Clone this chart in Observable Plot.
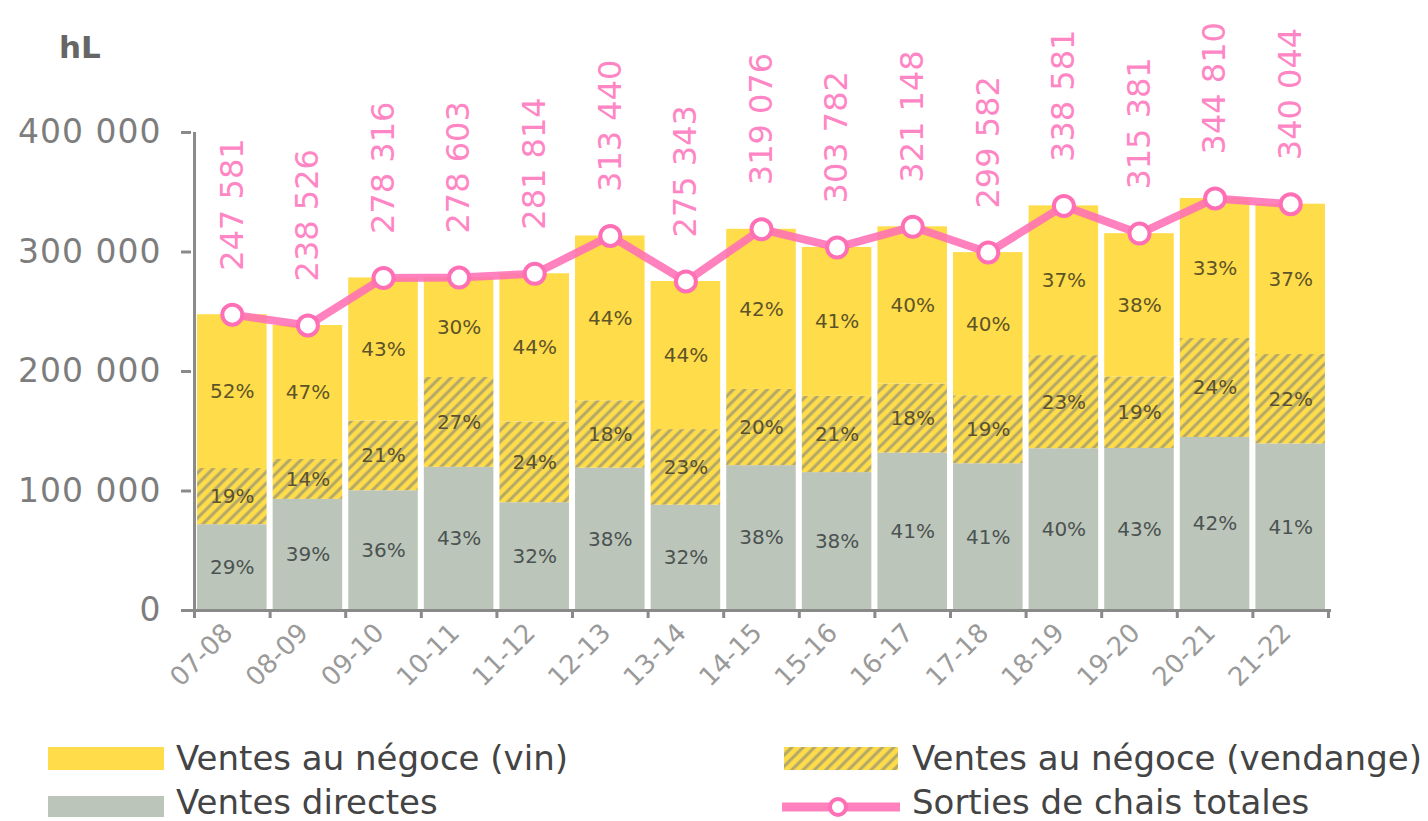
<!DOCTYPE html>
<html><head><meta charset="utf-8">
<script src="https://cdn.jsdelivr.net/npm/d3@7"></script>
<script src="https://cdn.jsdelivr.net/npm/@observablehq/plot@0.6"></script>
<style>
body{margin:0;background:#fff;font-family:"DejaVu Sans",sans-serif;}
#wrap{position:relative;width:1428px;height:821px;overflow:hidden;}
#chart{position:absolute;left:0;top:0;}
.unit{position:absolute;left:59px;top:29px;font-size:31px;font-weight:bold;color:#666;}
.leg{position:absolute;display:flex;align-items:center;font-size:34px;color:#444;white-space:nowrap;line-height:36px;}
.leg svg{margin-right:10px;flex:none;}
g[aria-label="y-axis tick label"] text{letter-spacing:1px;}
</style></head><body>
<div id="wrap"><div id="chart"></div><div class="unit">hL</div></div>
<script>
const campagnes = ["07-08","08-09","09-10","10-11","11-12","12-13","13-14","14-15","15-16","16-17","17-18","18-19","19-20","20-21","21-22"];
const totals = [247581,238526,278316,278603,281814,313440,275343,319076,303782,321148,299582,338581,315381,344810,340044];
const directes = [71800,93000,100200,119800,90200,119100,88100,121200,115400,131700,122800,135400,135600,144800,139400];
const vendange = [47000,33400,58400,75200,67600,56400,63300,63800,63800,57800,56900,77900,59900,82800,74800];
const vin = [128700,112100,119700,83600,124000,137900,123900,134000,124600,131600,119800,125300,119800,117200,125800];
const pctDirectes = ["29%","39%","36%","43%","32%","38%","32%","38%","38%","41%","41%","40%","43%","42%","41%"];
const pctVendange = ["19%","14%","21%","27%","24%","18%","23%","20%","21%","18%","19%","23%","19%","24%","22%"];
const pctVin = ["52%","47%","43%","30%","44%","44%","44%","42%","41%","40%","40%","37%","38%","33%","37%"];
const yTicks = [0,100000,200000,300000,400000];
const seriesNames = ["Ventes directes","Ventes au négoce (vendange)","Ventes au négoce (vin)","Sorties de chais totales"];

const colYellow = "#ffdc4a", colGray = "#bcc5b9", colPink = "#ff6fb5", colLabel = "#ff86c4";
const fmt = d3.formatLocale({thousands:" ", grouping:[3], decimal:","}).format(",");

const rows = [];
campagnes.forEach((c,i)=>{
  rows.push({campagne:c, serie:seriesNames[0], value:directes[i], pct:pctDirectes[i], fill:colGray, tcol:"#4b5352"});
  rows.push({campagne:c, serie:seriesNames[1], value:vendange[i], pct:pctVendange[i], fill:"url(#hatch)", tcol:"#5a5230"});
  rows.push({campagne:c, serie:seriesNames[2], value:vin[i], pct:pctVin[i], fill:colYellow, tcol:"#5e5428"});
});
const totRows = campagnes.map((c,i)=>({campagne:c, total:totals[i], label:fmt(totals[i])}));

const W = 1428, H = 720, mL = 191, mR = 97, mT = 132, mB = 110;
const pad = 0.08;
const step = (W - mL - mR) / (campagnes.length - pad + 2*pad);

const svg = Plot.plot({
  width: W, height: H,
  marginLeft: mL, marginRight: mR, marginTop: mT, marginBottom: mB,
  style: {fontFamily: "DejaVu Sans", background: "white"},
  x: {domain: campagnes, padding: pad, round: false, label: null},
  y: {domain: [0, 400000], label: null},
  color: {type: "identity"},
  marks: [
    Plot.barY(rows, Plot.stackY({x: "campagne", y: "value", fill: "fill", order: null})),
    Plot.text(rows, Plot.stackY({x: "campagne", y: "value", text: "pct", fill: "tcol", order: null, fontSize: 20})),
    Plot.ruleY([0], {stroke: "#8a8a8a", strokeWidth: 3}),
    Plot.ruleX([campagnes[0]], {dx: -step/2, y1: 0, y2: 400000, stroke: "#8a8a8a", strokeWidth: 3}),
    Plot.axisY({ticks: yTicks, tickFormat: fmt, tickSize: 10, tickPadding: 20, fontSize: 33, fill: "#7d7d7d", stroke: "#8a8a8a", strokeWidth: 3, label: null}),
    Plot.axisX({tickSize: 8, text: null, stroke: "#8a8a8a", strokeWidth: 3, dx: -step/2, label: null}),
    Plot.axisX([campagnes[campagnes.length-1]], {tickSize: 8, text: null, stroke: "#8a8a8a", strokeWidth: 3, dx: step/2, label: null}),
    Plot.axisX({tickSize: 0, tickPadding: 18, tickRotate: -45, fontSize: 26, fill: "#9a9a9a", dx: -4, label: null}),
    Plot.lineY(totRows, {x: "campagne", y: "total", stroke: colPink, strokeWidth: 8, strokeOpacity: 0.88}),
    Plot.dot(totRows, {x: "campagne", y: "total", r: 10, fill: "white", stroke: colPink, strokeWidth: 4}),
    Plot.text(totRows, {x: "campagne", y: "total", text: "label", rotate: -90, textAnchor: "start", dy: -44, fill: colLabel, fontSize: 32})
  ]
});

const defs = d3.select(svg).insert("defs", ":first-child");
const pat = defs.append("pattern").attr("id","hatch").attr("patternUnits","userSpaceOnUse")
  .attr("width",8).attr("height",8).attr("patternTransform","rotate(45)");
pat.append("rect").attr("width",8).attr("height",8).attr("fill",colYellow);
pat.append("line").attr("x1",2).attr("x2",2).attr("y1",0).attr("y2",8).attr("stroke","#b1a66a").attr("stroke-width",3);
document.getElementById("chart").appendChild(svg);

// legend
const wrap = document.getElementById("wrap");
function legend(x, y, name, swatch){
  const d = document.createElement("div");
  d.className = "leg"; d.style.left = x + "px"; d.style.top = y + "px";
  d.innerHTML = swatch + `<span>${name}</span>`;
  wrap.appendChild(d);
}
const sw = (inner) => `<svg width="120" height="30" viewBox="0 0 120 30">${inner}</svg>`;
legend(46, 740, seriesNames[2], sw(`<rect x="2" y="4" width="116" height="23" fill="${colYellow}"/>`));
legend(46, 784, seriesNames[0], sw(`<rect x="2" y="9" width="116" height="23" fill="${colGray}"/>`));
legend(782, 740, seriesNames[1], sw(`<defs><pattern id="hatch2" patternUnits="userSpaceOnUse" width="8" height="8" patternTransform="rotate(45)"><rect width="8" height="8" fill="${colYellow}"/><line x1="2" x2="2" y1="0" y2="8" stroke="#b1a66a" stroke-width="3"/></pattern></defs><rect x="2" y="4" width="114" height="23" fill="url(#hatch2)"/>`));
legend(782, 784, seriesNames[3], sw(`<line x1="0" x2="118" y1="20" y2="20" stroke="${colPink}" stroke-width="9" stroke-opacity="0.88"/><circle cx="56" cy="20" r="8" fill="white" stroke="${colPink}" stroke-width="4"/>`));
</script>
</body></html>
